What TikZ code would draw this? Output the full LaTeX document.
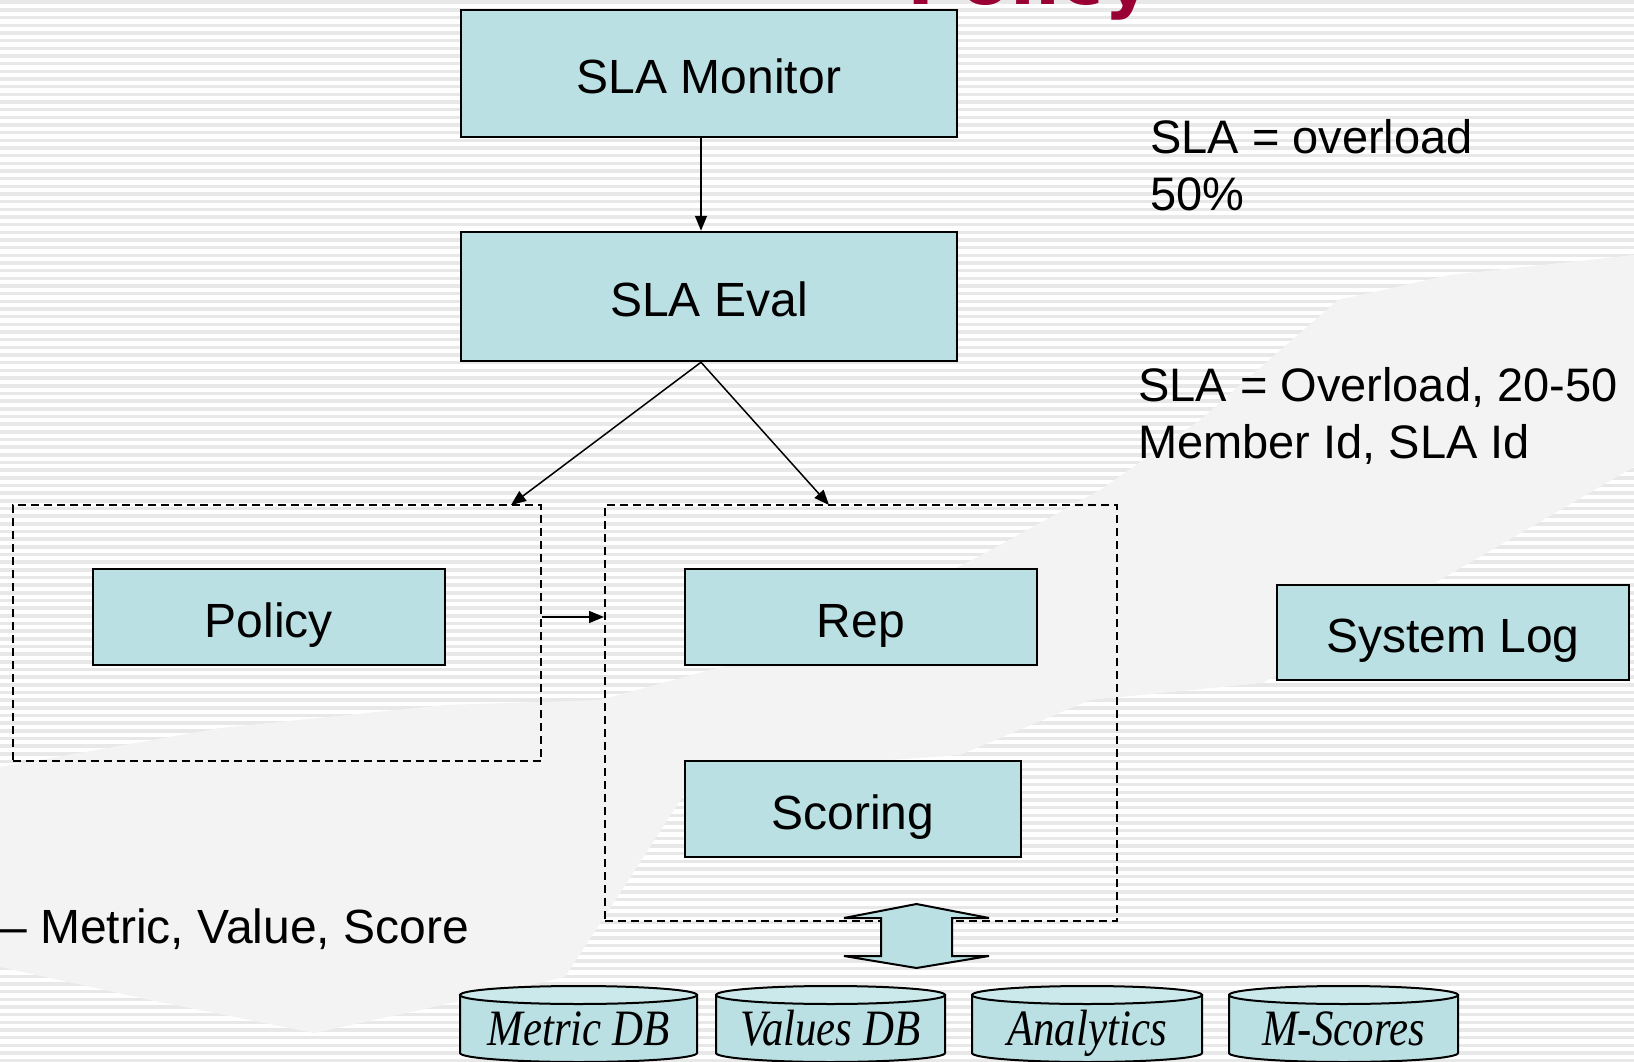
\documentclass[tikz,border=0pt]{standalone}
\usepackage{fontspec}
\setmainfont{Liberation Sans}
\newfontfamily\dbfont{Liberation Serif}
\newfontfamily\titlefont{DejaVu Sans}
\usetikzlibrary{arrows.meta,calc}
\definecolor{boxfill}{RGB}{186,224,227}
\definecolor{stripe}{RGB}{232,232,232}
\definecolor{swoosh}{RGB}{243,243,243}
\definecolor{titlered}{RGB}{153,0,51}
\begin{document}
\begin{tikzpicture}[x=1pt,y=-1pt,
  box/.style={draw=black,line width=2.5pt,fill=boxfill,inner sep=0pt,text height=40pt,text depth=0pt,font=\fontsize{48}{56}\selectfont},
  grp/.style={draw=black,line width=2pt,dash pattern=on 8pt off 5pt,inner sep=0pt},
  arr/.style={line width=1.5pt,-{Triangle[length=15pt,width=12pt]}},
  lbl/.style={font=\fontsize{47}{57}\selectfont,inner sep=0pt},
  cylbody/.style={fill=boxfill,draw=black,line width=2pt},
  cyltop/.style={fill=boxfill!75!white,draw=black,line width=2pt},
  dbtxt/.style={font=\dbfont\itshape\fontsize{51}{60}\selectfont,inner sep=0pt,anchor=base}]
\useasboundingbox (0,0) rectangle (1634,1062);
\clip (0,0) rectangle (1634,1062);
% background
\fill[white] (0,0) rectangle (1634,1062);
\foreach \i in {0,...,138} \fill[stripe] (0,{\i*7.67+0.5}) rectangle (1634,{\i*7.67+4});
\fill[swoosh] (0,767) -- (220,728) -- (445,705) -- (600,700) -- (820,640) -- (1000,545) -- (1100,490) -- (1200,420) -- (1338,300) -- (1450,275) -- (1634,255)
  -- (1634,467) -- (1263,683) -- (1090,700) -- (960,755) -- (820,765) -- (685,793) -- (607,913) -- (565,977) -- (420,1010) -- (314,1033) -- (150,1000) -- (0,967) -- cycle;
% title (mostly cut off)
\node[anchor=base west,text=titlered,font=\titlefont\bfseries\fontsize{73}{80}\selectfont,inner sep=0pt] (title) at (907,5) {Policy};
% group boxes
\node[grp,minimum width=528.5pt,minimum height=256pt] (polgrp) at (276.75,633) {};
\node[grp,minimum width=512pt,minimum height=416pt] (repgrp) at (861,713) {};
% boxes
\node[box,minimum width=496pt,minimum height=127pt] (monitor) at (709,73.5) {SLA Monitor};
\node[box,minimum width=496pt,minimum height=129pt] (eval) at (709,296.5) {SLA Eval};
\node[box,minimum width=352pt,minimum height=96pt] (policy) at (269,617) {Policy};
\node[box,minimum width=352pt,minimum height=96pt] (rep) at (861,617) {Rep};
\node[box,minimum width=336pt,minimum height=96pt] (scoring) at (853,809) {Scoring};
\node[box,minimum width=352pt,minimum height=95pt] (syslog) at (1453,632.5) {System Log};
% connectors
\coordinate (pin) at (511,505);
\coordinate (rin) at (829,505);
\draw[arr] ([xshift=-8pt]monitor.south) -- ([xshift=-8pt]eval.north);
\draw[arr] ([xshift=-8pt]eval.south) -- (pin);
\draw[arr] ([xshift=-8pt]eval.south) -- (rin);
\draw[arr] (policy -| polgrp.east) -- (policy -| repgrp.west);
% double arrow
\filldraw[fill=boxfill,draw=black,line width=2pt,line join=miter] (916.5,904) -- (989,918) -- (952,918) -- (952,956) -- (989,956) -- (916.5,968) -- (844,956) -- (881,956) -- (881,918) -- (844,918) -- cycle;
% databases
\foreach \xa/\xb/\nm/\txt in {460/697/mdb/{Metric DB}, 716/945/vdb/{Values DB}, 972/1202/adb/{Analytics}, 1229/1458/msdb/{M-Scores}}{
  \pgfmathsetmacro{\cx}{(\xa+\xb)/2}
  \pgfmathsetmacro{\rx}{(\xb-\xa)/2}
  \pgfmathsetmacro{\kx}{0.5523*\rx}
  \filldraw[cylbody] (\xa,995) -- (\xa,1053) .. controls (\xa,1058) and ({\cx-\kx},1062) .. (\cx,1062) .. controls ({\cx+\kx},1062) and (\xb,1058) .. (\xb,1053) -- (\xb,995) -- cycle;
  \filldraw[cyltop] (\cx,995) ellipse [x radius=\rx, y radius=9];
  \node[dbtxt] (\nm) at (\cx,1045) {\scalebox{0.84}[1]{\txt}};
}
% free texts
\node[lbl,anchor=base west] (t1) at (1150,154) {SLA = overload};
\node[lbl,anchor=base west] (t2) at (1150,211) {50\%};
\node[lbl,anchor=base west] (t3) at (1138,401) {SLA = Overload, 20-50};
\node[lbl,anchor=base west] (t4) at (1138,458) {Member Id, SLA Id};
\node[lbl,font=\fontsize{48}{57}\selectfont,anchor=base east] (t5) at (469,943) {– Metric, Value, Score};
\end{tikzpicture}
\end{document}
